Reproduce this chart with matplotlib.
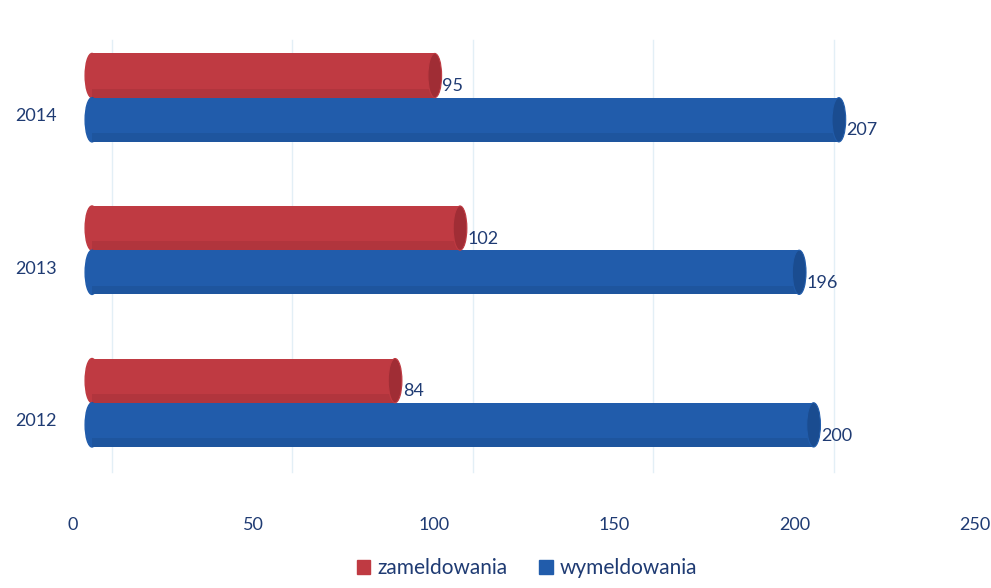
import matplotlib
matplotlib.use("Agg")
import matplotlib.pyplot as plt
from matplotlib.patches import Ellipse, Patch
from matplotlib.transforms import ScaledTranslation

years = ["2012", "2013", "2014"]
zameldowania = [84, 102, 95]
wymeldowania = [200, 196, 207]
xticks = [0, 50, 100, 150, 200, 250]
series_names = ["zameldowania", "wymeldowania"]

red = "#bf3a42"
red_cap = "#a02d35"
blue = "#215cab"
blue_cap = "#1a4c90"
navy = "#1f3b73"

plt.rcParams['font.family'] = ['Lato', 'DejaVu Sans']

fig = plt.figure(figsize=(9.91, 5.88), dpi=100)
ax = fig.add_axes([92 / 991, 1 - 490 / 588, 902 / 991, 450 / 588])

h = 0.29
off_red = 0.257
off_blue = -0.033
cap_w = 3.8

for i, (z, w) in enumerate(zip(zameldowania, wymeldowania)):
    for val, off, col, capc in ((z, off_red, red, red_cap), (w, off_blue, blue, blue_cap)):
        yc = i + off
        ax.barh(yc, val, height=h, color=col, zorder=3)
        ax.add_patch(Ellipse((0, yc), cap_w, h, color=col, zorder=3,
                             clip_on=False))
        ax.add_patch(Ellipse((val, yc), cap_w, h, facecolor=capc,
                             edgecolor=col, lw=0.8, zorder=4))
        # subtle shading for cylinder look
        ax.barh(yc - h * 0.40, val, height=h * 0.2, color="black", alpha=0.07,
                zorder=3.5, lw=0)
        ax.text(val + cap_w / 2 + 0.2, yc - 0.07, str(val), color=navy,
                fontsize=13, va="center", ha="left", zorder=5)

ax.set_xlim(0, 250)
ax.set_ylim(-0.46, 2.49)
ax.set_xticks(xticks)
ax.set_xticklabels([str(t) for t in xticks])
ax.set_yticks(range(len(years)))
ax.set_yticklabels(years)
ax.tick_params(axis="both", length=0, labelsize=13, labelcolor=navy)
ax.tick_params(axis="x", pad=19.5)
ax.tick_params(axis="y", pad=25.5)
for s in ax.spines.values():
    s.set_visible(False)

shift = ScaledTranslation(-19 / 100, 0, fig.dpi_scale_trans)
for lab in ax.get_xticklabels():
    lab.set_transform(lab.get_transform() + shift)

gshift = ScaledTranslation(20 / 100, 0, fig.dpi_scale_trans)
gtrans = ax.get_xaxis_transform() + gshift
for t in xticks:
    ax.plot([t, t], [0.04, 1.0], color="#e3eff6", lw=1.0, zorder=1,
            transform=gtrans, clip_on=False)

handles = [Patch(facecolor=red, edgecolor=red), Patch(facecolor=blue, edgecolor=blue)]
leg = fig.legend(handles, series_names, loc="lower center", ncol=2,
                 bbox_to_anchor=(0.532, -0.015), frameon=False, fontsize=15,
                 handlelength=0.65, handleheight=0.65, handletextpad=0.35,
                 columnspacing=1.5)
for t in leg.get_texts():
    t.set_color(navy)

fig.savefig("out.png", dpi=100)
